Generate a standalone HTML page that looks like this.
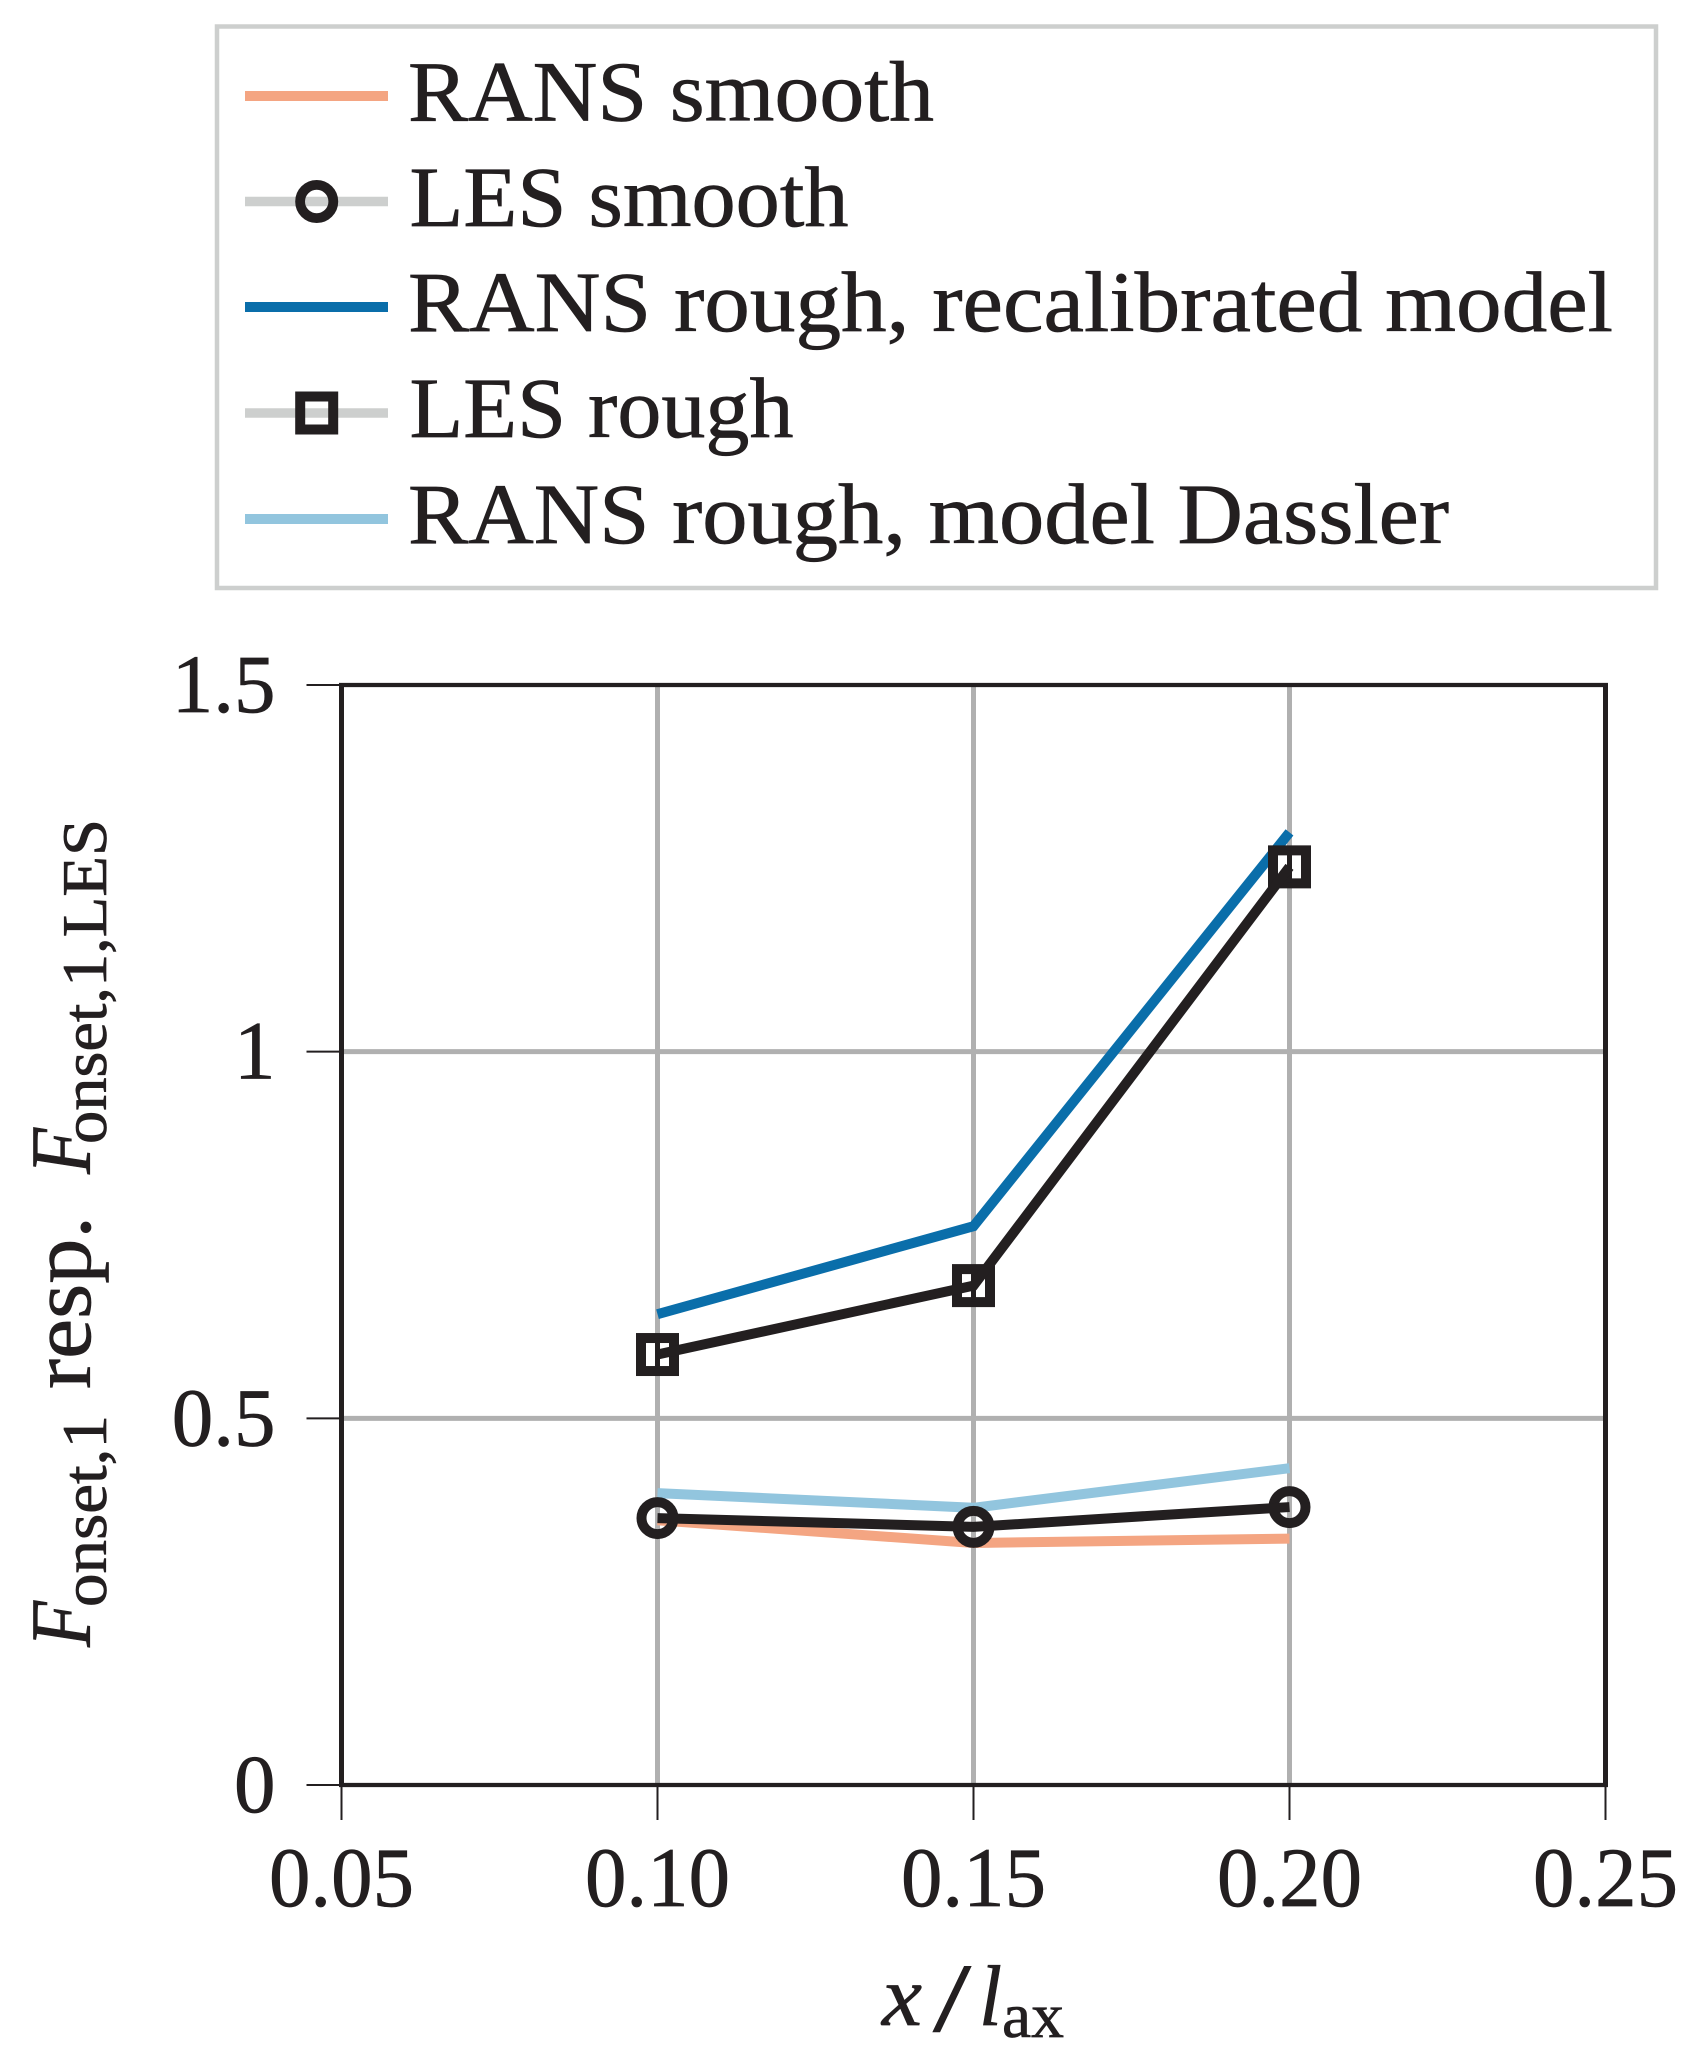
<!DOCTYPE html>
<html lang="en">
<head>
<meta charset="utf-8">
<title>Fonset,1 chart</title>
<style>
html,body{margin:0;padding:0;background:#fff;}
svg{display:block;}
text{font-family:"Liberation Serif",serif;fill:#231f20;stroke:#231f20;stroke-width:0.7px;}
</style>
</head>
<body>
<svg id="chart" xmlns="http://www.w3.org/2000/svg" width="1699" height="2066" viewBox="0 0 1699 2066">
  <rect x="0" y="0" width="1699" height="2066" fill="#fff"/>
  <g id="grid"></g>
  <g id="ticks"></g>
  <g id="series"></g>
  <g stroke="#231f20">
    <line x1="341.5" x2="341.5" y1="683" y2="1787" stroke-width="5"/>
    <line x1="1605.5" x2="1605.5" y1="683" y2="1787" stroke-width="5"/>
    <line x1="339" x2="1608" y1="685" y2="685" stroke-width="4.2"/>
    <line x1="339" x2="1608" y1="1785" y2="1785" stroke-width="4.2"/>
  </g>
  <g id="tick-labels"></g>

  <g>
    <rect x="217" y="26.5" width="1439" height="561.5" fill="#fff" stroke="#cdcfce" stroke-width="4.5"/>
    <line x1="245" x2="388" y1="96" y2="96" stroke="#f4a582" stroke-width="10"/>
    <text x="408" y="120.5" font-size="86" textLength="526" lengthAdjust="spacingAndGlyphs">RANS smooth</text>
    <line x1="245" x2="388" y1="201.5" y2="201.5" stroke="#cdcfce" stroke-width="9.5"/>
    <circle cx="316.7" cy="201.5" r="16.6" fill="none" stroke="#231f20" stroke-width="9.8"/>
    <text x="409.5" y="226" font-size="86" textLength="439" lengthAdjust="spacingAndGlyphs">LES smooth</text>
    <line x1="245" x2="388" y1="307" y2="307" stroke="#0a6eaa" stroke-width="10"/>
    <text x="408" y="331" font-size="86" textLength="1205" lengthAdjust="spacingAndGlyphs">RANS rough, recalibrated model</text>
    <line x1="245" x2="388" y1="413" y2="413" stroke="#cdcfce" stroke-width="9.5"/>
    <rect x="300.2" y="396.5" width="33" height="33" fill="none" stroke="#231f20" stroke-width="10"/>
    <text x="409.5" y="437" font-size="86" textLength="384" lengthAdjust="spacingAndGlyphs">LES rough</text>
    <line x1="245" x2="388" y1="519" y2="519" stroke="#92c5de" stroke-width="10"/>
    <text x="408" y="543" font-size="86" textLength="1041" lengthAdjust="spacingAndGlyphs">RANS rough, model Dassler</text>
  </g>

  <g transform="translate(90,1647) rotate(-90)">
    <text x="0" y="0" font-size="86" font-style="italic" textLength="46" lengthAdjust="spacingAndGlyphs">F</text>
    <text x="40" y="16" font-size="63" textLength="192" lengthAdjust="spacingAndGlyphs">onset,1</text>
    <text x="258" y="0" font-size="86" textLength="173" lengthAdjust="spacingAndGlyphs">resp.</text>
    <text x="473" y="0" font-size="86" font-style="italic" textLength="46" lengthAdjust="spacingAndGlyphs">F</text>
    <text x="503" y="16" font-size="63" textLength="325" lengthAdjust="spacingAndGlyphs">onset,1,LES</text>
  </g>

  <g>
    <text x="882" y="2025" font-size="86" font-style="italic" textLength="40" lengthAdjust="spacingAndGlyphs">x</text>
    <text x="933" y="2031" font-size="98" textLength="38" lengthAdjust="spacingAndGlyphs">/</text>
    <text x="979" y="2025" font-size="86" font-style="italic" textLength="23" lengthAdjust="spacingAndGlyphs">l</text>
    <text x="1002" y="2037" font-size="63" textLength="62" lengthAdjust="spacingAndGlyphs">ax</text>
  </g>
</svg>

<script>
var xValues = [0.10, 0.15, 0.20];
var xTicks = [0.05, 0.10, 0.15, 0.20, 0.25];
var xTickLabels = ["0.05", "0.10", "0.15", "0.20", "0.25"];
var yTicks = [0, 0.5, 1, 1.5];
var yTickLabels = ["0", "0.5", "1", "1.5"];
var ransSmooth = [0.361, 0.330, 0.336];
var lesSmooth = [0.364, 0.352, 0.379];
var ransRoughRecalibrated = [0.642, 0.762, 1.299];
var lesRough = [0.587, 0.681, 1.252];
var ransRoughDassler = [0.398, 0.378, 0.432];

var SVG_NS = 'http://www.w3.org/2000/svg';
function xScale(v) { return 341.5 + (v - 0.05) / 0.20 * 1264; }
function yScale(v) { return 1785 - v / 1.5 * 1100; }
function make(tag, parent, props) {
  var el = document.createElementNS(SVG_NS, tag);
  for (var k in props) { el.setAttribute(k, props[k]); }
  parent.appendChild(el);
  return el;
}

var grid = document.getElementById('grid');
var ticks = document.getElementById('ticks');
var labels = document.getElementById('tick-labels');
var series = document.getElementById('series');
var DARK = '#231f20';

xTicks.forEach(function (v, i) {
  var x = xScale(v);
  if (i > 0 && i < xTicks.length - 1) {
    var g = make('line', grid, { x1: x, x2: x, y1: yScale(1.5), y2: yScale(0), stroke: '#b0b0b0', 'stroke-width': 5 });
    
    
  }
  var t = make('line', ticks, { x1: x, x2: x, y1: yScale(0), y2: yScale(0) + 35, stroke: DARK, 'stroke-width': 2 });
  
  
  var l = make('text', labels, { x: x, y: 1906, 'font-size': 85, 'text-anchor': 'middle', textLength: 145, lengthAdjust: 'spacingAndGlyphs' });
  l.textContent = xTickLabels[i];
  
  
});

yTicks.forEach(function (v, i) {
  var y = yScale(v);
  if (i > 0 && i < yTicks.length - 1) {
    var g = make('line', grid, { x1: xScale(0.05), x2: xScale(0.25), y1: y, y2: y, stroke: '#b0b0b0', 'stroke-width': 5 });
    
    
  }
  var t = make('line', ticks, { x1: xScale(0.05) - 35, x2: xScale(0.05), y1: y, y2: y, stroke: DARK, 'stroke-width': 2 });
  
  
  var l = make('text', labels, { x: 275.5, y: y + 27, 'font-size': 83, 'text-anchor': 'end' });
  l.textContent = yTickLabels[i];
  
  
});

function drawLine(values, color, name) {
  var pts = values.map(function (v, i) { return xScale(xValues[i]) + ',' + yScale(v); }).join(' ');
  var el = make('polyline', series, { points: pts, fill: 'none', stroke: color, 'stroke-width': 10, 'stroke-linejoin': 'miter' });
  
  
}

drawLine(ransSmooth, '#f4a582', 'line-rans-smooth');
drawLine(ransRoughRecalibrated, '#0a6eaa', 'line-rans-rough-recalibrated');
drawLine(ransRoughDassler, '#92c5de', 'line-rans-rough-dassler');

lesRough.forEach(function (v, i) {
  var r = make('rect', series, { x: xScale(xValues[i]) - 16.5, y: yScale(v) - 16.5, width: 33, height: 33, fill: '#fff', stroke: DARK, 'stroke-width': 10 });
  
  
  var b = make('line', series, { x1: xScale(xValues[i]), x2: xScale(xValues[i]), y1: yScale(v) - 16, y2: yScale(v) + 16, stroke: DARK, 'stroke-width': 5 });
  
  
});
lesSmooth.forEach(function (v, i) {
  var c = make('circle', series, { cx: xScale(xValues[i]), cy: yScale(v), r: 16, fill: 'none', stroke: DARK, 'stroke-width': 10 });
  
  
});
drawLine(lesSmooth, DARK, 'line-les-smooth');
drawLine(lesRough, DARK, 'line-les-rough');
</script>
</body>
</html>
